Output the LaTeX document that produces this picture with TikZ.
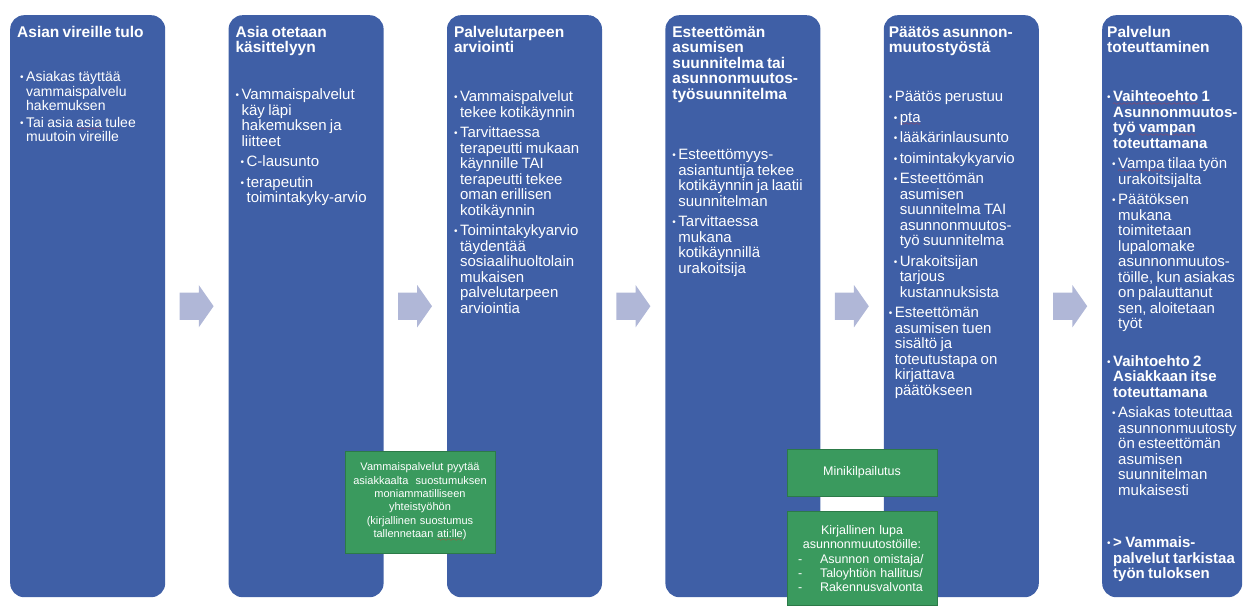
\documentclass[tikz,border=0pt]{standalone}
\usepackage{fontspec}
\setmainfont{Liberation Sans}
\usepackage{tikz}
\usetikzlibrary{positioning,shapes.arrows}

\definecolor{colblue}{HTML}{3F5FA6}
\definecolor{notegreen}{HTML}{3A9A5E}
\definecolor{noteedge}{HTML}{2C7A48}
\definecolor{arrowgrey}{HTML}{B0B7D7}
\definecolor{spellred}{HTML}{E03030}

% bullet item: optional indent, then text; continuation lines hang under the text
\newcommand{\bulletmark}{\raisebox{0.8pt}{\fontsize{10}{10}\selectfont\textbullet}}
\newcommand{\itm}[2][0pt]{\par\noindent\hangindent=\dimexpr#1+6pt\relax\hangafter=1\hspace*{#1}\makebox[6pt][l]{\bulletmark}\rule{0pt}{14pt}#2}
\font\spellwave=lasy6
\newcommand{\spellmark}[1]{\setbox0\hbox{#1}\rlap{\textcolor{spellred}{\lower3.5pt\hbox to\wd0{\xleaders\hbox{\spellwave\char58}\hfill}}}\box0\relax}
\newcommand{\firstline}{\rule{0pt}{14pt}}

\begin{document}
\begin{tikzpicture}[
    colbox/.style={rectangle, rounded corners=14pt, fill=colblue, minimum width=155pt, minimum height=582pt, inner sep=0pt},
    coltitle/.style={anchor=north west, inner sep=0pt, text width=150pt, align=left, text=white,
        execute at begin node={\fontsize{15.5}{15.5}\selectfont\bfseries\lineskiplimit=-20pt}},
    colbody/.style n args={3}{anchor=north west, inner sep=0pt, text width=170pt, align=left, text=white,
        execute at begin node={\fontsize{#1}{#2}\selectfont\lineskiplimit=-20pt\setlength{\parskip}{#3}}},
    flowarrow/.style={single arrow, fill=arrowgrey, minimum height=34pt, inner xsep=4pt, inner ysep=13.5pt,
        single arrow head extend=7.5pt, single arrow tip angle=110},
    notebox/.style={rectangle, fill=notegreen, draw=noteedge, line width=0.6pt, minimum width=150pt,
        text width=146pt, inner sep=2pt, align=center, text=white}
]
\useasboundingbox (0pt,0pt) rectangle (1243pt,-607pt);

% columns
\node (col1) [colbox, anchor=north west] at (10pt,-15pt) {};
\node (col2) [colbox, right=63pt of col1] {};
\node (col3) [colbox, right=63pt of col2] {};
\node (col4) [colbox, right=63pt of col3] {};
\node (col5) [colbox, right=63pt of col4] {};
\node (col6) [colbox, minimum width=140pt, right=63pt of col5] {};

% block arrows between columns
\node (ar1) [flowarrow, right=14pt of col1] {};
\node (ar2) [flowarrow, right=14pt of col2] {};
\node (ar3) [flowarrow, right=14pt of col3] {};
\node (ar4) [flowarrow, right=14pt of col4] {};
\node (ar5) [flowarrow, right=14pt of col5] {};

% titles
\node (t1) [coltitle] at ([shift={(7pt,-8pt)}]col1.north west) {\firstline Asian vireille tulo};
\node (t2) [coltitle] at ([shift={(7pt,-8pt)}]col2.north west) {\firstline Asia otetaan\newline käsittelyyn};
\node (t3) [coltitle] at ([shift={(7pt,-8pt)}]col3.north west) {\firstline Palvelutarpeen\newline arviointi};
\node (t4) [coltitle] at ([shift={(7pt,-8pt)}]col4.north west) {\firstline Esteettömän\newline asumisen\newline suunnitelma tai\newline asunnonmuutos-\newline työsuunnitelma};
\node (t5) [coltitle] at ([shift={(5pt,-8pt)}]col5.north west) {\firstline Päätös asunnon-\newline muutostyöstä};
\node (t6) [coltitle] at ([shift={(5pt,-8pt)}]col6.north west) {\firstline Palvelun\newline toteuttaminen};

% bodies
\node (b1) [colbody={14}{14.5}{2pt}] at ([shift={(10pt,-50pt)}]col1.north west) {%
  \itm{Asiakas täyttää\newline vammaispalvelu\newline hakemuksen}%
  \itm{Tai asia \spellmark{asia} tulee\newline muutoin vireille}\par};
\node (b2) [colbody={15}{15.5}{5pt}] at ([shift={(7pt,-64pt)}]col2.north west) {%
  \itm{Vammaispalvelut\newline käy läpi\newline hakemuksen ja\newline liitteet}%
  \itm[5pt]{C-lausunto}%
  \itm[5pt]{terapeutin\newline toimintakyky-arvio}\par};
\node (b3) [colbody={15}{15.5}{5pt}] at ([shift={(7pt,-66pt)}]col3.north west) {%
  \itm{Vammaispalvelut\newline tekee kotikäynnin}%
  \itm{Tarvittaessa\newline terapeutti mukaan\newline käynnille TAI\newline terapeutti tekee\newline oman erillisen\newline kotikäynnin}%
  \itm{Toimintakykyarvio\newline täydentää\newline sosiaalihuoltolain\newline mukaisen\newline palvelutarpeen\newline arviointia}\par};
\node (b4) [colbody={15}{15.5}{5pt}] at ([shift={(7pt,-124pt)}]col4.north west) {%
  \itm{Esteettömyys-\newline asiantuntija tekee\newline kotikäynnin ja laatii\newline suunnitelman}%
  \itm{Tarvittaessa\newline mukana\newline kotikäynnillä\newline urakoitsija}\par};
\node (b5) [colbody={15}{15.5}{5pt}] at ([shift={(5pt,-66pt)}]col5.north west) {%
  \itm{Päätös perustuu}%
  \itm[5pt]{\spellmark{pta}}%
  \itm[5pt]{lääkärinlausunto}%
  \itm[5pt]{toimintakykyarvio}%
  \itm[5pt]{Esteettömän\newline asumisen\newline suunnitelma TAI\newline asunnonmuutos-\newline työ suunnitelma}%
  \itm[5pt]{Urakoitsijan\newline tarjous\newline kustannuksista}%
  \itm{Esteettömän\newline asumisen tuen\newline sisältö ja\newline toteutustapa on\newline kirjattava\newline päätökseen}\par};
\node (b6) [colbody={15}{15.5}{5pt}] at ([shift={(5pt,-66pt)}]col6.north west) {%
  \itm{\textbf{\spellmark{Vaihteoehto} 1\newline Asunnonmuutos-\newline työ \spellmark{vampan}\newline toteuttamana}}%
  \itm[5pt]{\spellmark{Vampa} tilaa työn\newline urakoitsijalta}%
  \itm[5pt]{Päätöksen\newline mukana\newline toimitetaan\newline lupalomake\newline asunnonmuutos-\newline töille, kun asiakas\newline on palauttanut\newline sen, aloitetaan\newline työt}%
  \par\vspace{17pt}%
  \itm{\textbf{Vaihtoehto 2\newline Asiakkaan itse\newline toteuttamana}}%
  \itm[5pt]{Asiakas toteuttaa\newline asunnonmuutosty\newline ön esteettömän\newline asumisen\newline suunnitelman\newline mukaisesti}%
  \par\vspace{32pt}%
  \itm{\textbf{> Vammais-\newline palvelut tarkistaa\newline työn tuloksen}}\par};

% green notes
\node (consent) [notebox, minimum height=102pt, font={\fontsize{11}{13.4}\selectfont}] at (420pt,-502pt)
  {Vammaispalvelut pyytää\\asiakkaalta\ \ suostumuksen\\moniammatilliseen\\yhteistyöhön\\(kirjallinen suostumus\\tallennetaan \spellmark{ati:lle})};
\node (mini) [notebox, minimum height=47pt, font={\fontsize{12.5}{14.3}\selectfont}] at (862pt,-472.5pt) {Minikilpailutus};
\node (permit) [notebox, minimum height=94pt, font={\fontsize{12.5}{14.3}\selectfont}, below=15pt of mini]
  {Kirjallinen lupa\\asunnonmuutostöille:\\
   \makebox[128pt][l]{\makebox[22pt][l]{-}Asunnon omistaja/}\\
   \makebox[128pt][l]{\makebox[22pt][l]{-}Taloyhtiön hallitus/}\\
   \makebox[128pt][l]{\makebox[22pt][l]{-}Rakennusvalvonta}};

\end{tikzpicture}
\end{document}
